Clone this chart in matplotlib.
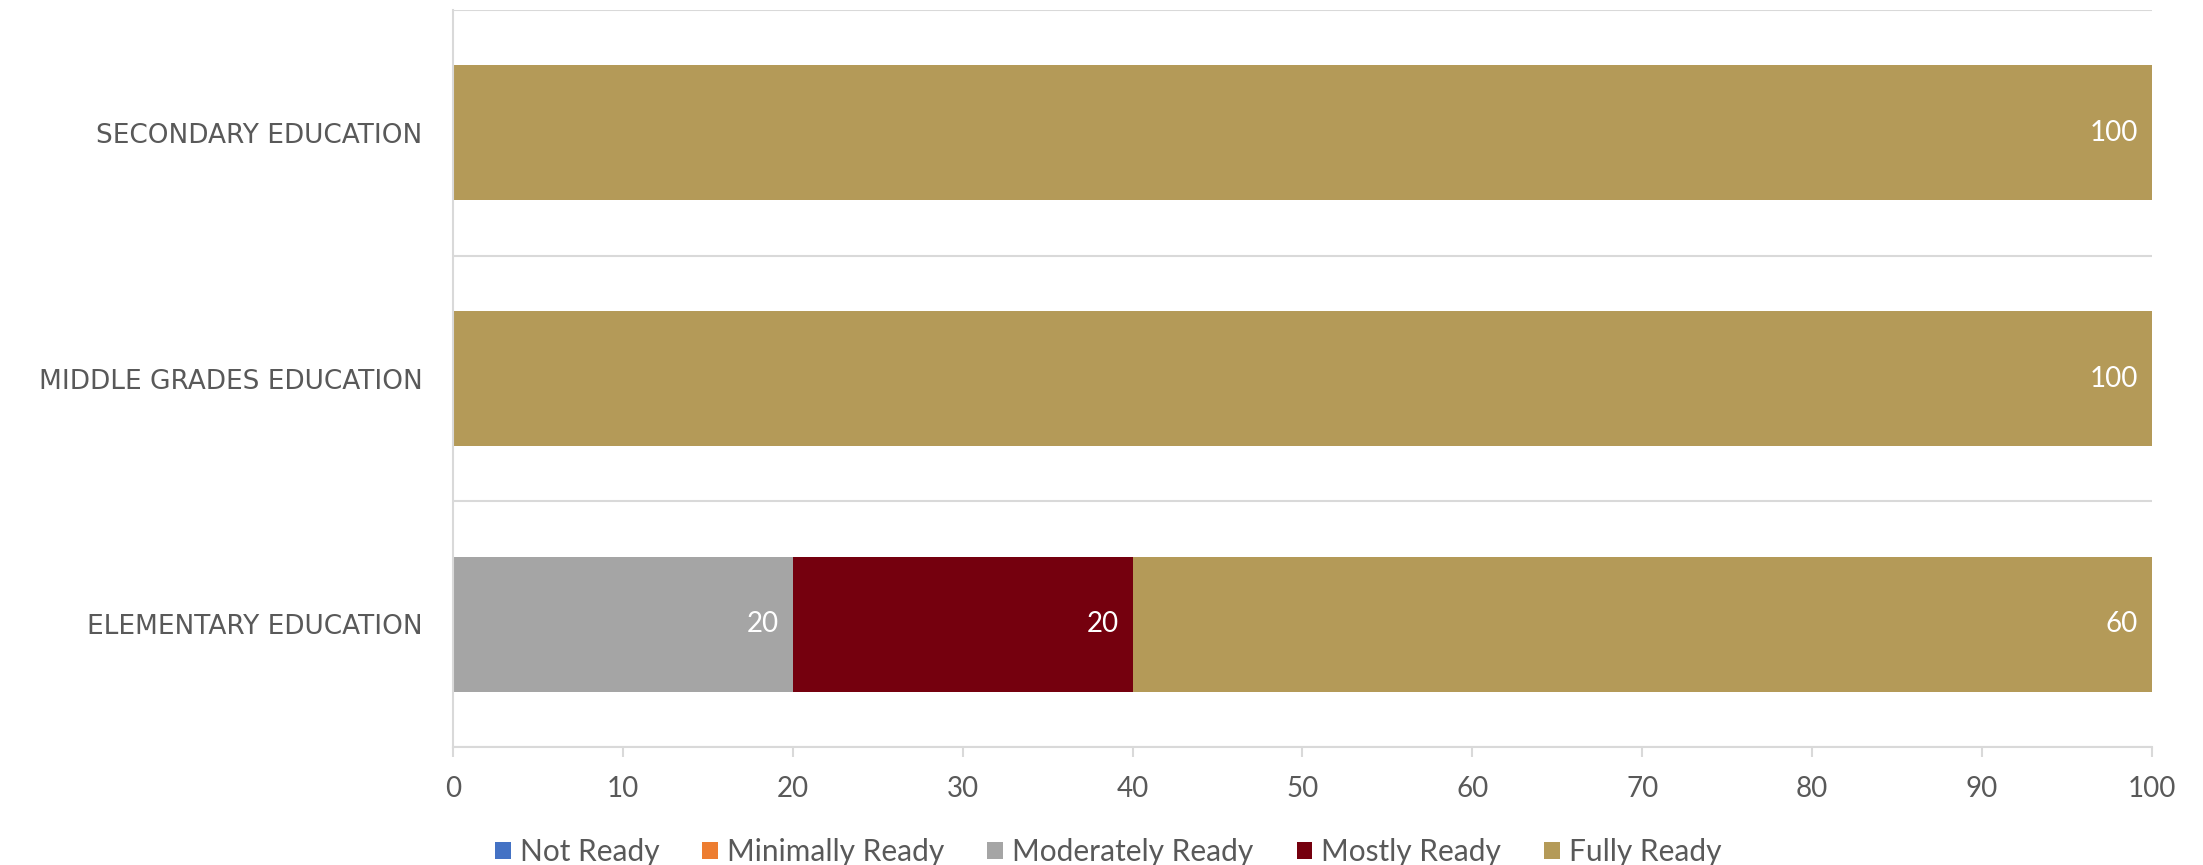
import numpy as np
import matplotlib.pyplot as plt

plt.rcParams['font.family'] = ['Lato', 'DejaVu Sans']

# readiness breakdown per program (percent)
programs = ['ELEMENTARY EDUCATION', 'MIDDLE GRADES EDUCATION', 'SECONDARY EDUCATION']
levels = ['Not Ready', 'Minimally Ready', 'Moderately Ready', 'Mostly Ready', 'Fully Ready']
not_ready = [0, 0, 0]
minimally_ready = [0, 0, 0]
moderately_ready = [20, 0, 0]
mostly_ready = [20, 0, 0]
fully_ready = [60, 100, 100]
colors = ['#4472C4', '#ED7D31', '#A5A5A5', '#75000E', '#B49A58']

series = [not_ready, minimally_ready, moderately_ready, mostly_ready, fully_ready]

fig = plt.figure(figsize=(22.03, 8.65), dpi=100)
ax = fig.add_axes([0.2056, 0.1364, 0.7712, 0.852])

grid_c = '#D9D9D9'
text_c = '#595959'
y = np.arange(len(programs))
left = np.zeros(len(programs))
for name, vals, c in zip(levels, series, colors):
    vals = np.array(vals, dtype=float)
    bars = ax.barh(y, vals, left=left, height=0.55, color=c, label=name)
    labels = ['' if v == 0 else f'{v:g}' for v in vals]
    texts = ax.bar_label(bars, labels=labels, label_type='edge', padding=-10,
                         color='white', fontsize=20)
    for t in texts:
        t.set_ha('right')
    left += vals

ax.set_xlim(0, 100)
ax.set_ylim(-0.5, len(programs) - 0.5)
ax.set_xticks(np.arange(0, 101, 10))
ax.set_yticks(y)
ax.set_yticklabels(programs, family=['DejaVu Sans'])
ax.set_yticks(np.arange(-0.5, len(programs), 1), minor=True)
ax.grid(True, axis='y', which='minor', color=grid_c, lw=1.5)
ax.set_axisbelow(True)

ax.tick_params(axis='x', which='major', length=7, width=1.5, color=grid_c,
               labelsize=20, labelcolor=text_c, pad=14)
ax.tick_params(axis='y', which='both', length=0, labelsize=19,
               labelcolor=text_c, pad=22)
for s in ['top', 'right']:
    ax.spines[s].set_visible(False)
for s in ['left', 'bottom']:
    ax.spines[s].set_color(grid_c)
    ax.spines[s].set_linewidth(1.5)

fig.legend(loc='lower center', bbox_to_anchor=(0.503, -0.032), ncol=5, frameon=False,
           fontsize=21.5, labelcolor=text_c, handlelength=0.52, handleheight=0.52,
           handletextpad=0.3, columnspacing=1.45)

fig.savefig('out.png', dpi=100)
